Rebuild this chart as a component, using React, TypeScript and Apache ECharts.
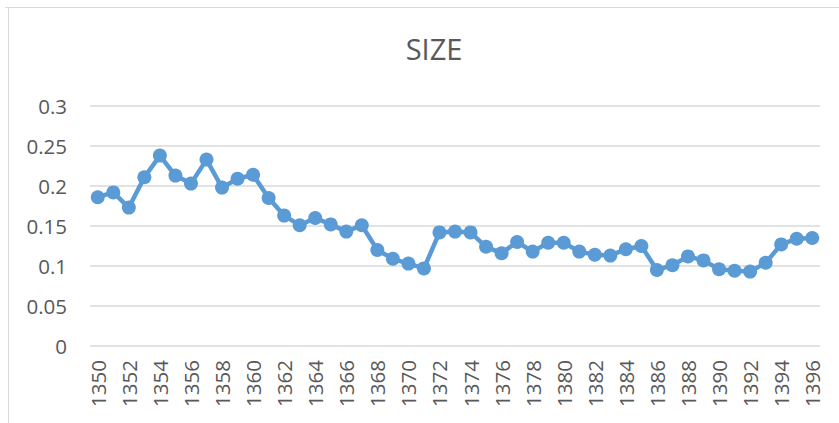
import React, { useEffect, useRef } from "react";
import * as echarts from "echarts";

const years: string[] = [];
for (let y = 1350; y <= 1396; y++) years.push(String(y));

const sizeValues = [
  0.186, 0.192, 0.173, 0.211, 0.238, 0.213, 0.203, 0.233, 0.198, 0.209,
  0.214, 0.185, 0.163, 0.151, 0.16, 0.152, 0.143, 0.151, 0.12, 0.109,
  0.103, 0.097, 0.142, 0.143, 0.142, 0.124, 0.116, 0.13, 0.118, 0.129,
  0.129, 0.118, 0.114, 0.113, 0.121, 0.125, 0.095, 0.101, 0.112, 0.107,
  0.096, 0.094, 0.093, 0.104, 0.127, 0.134, 0.135,
];

const yMin = 0;
const yMax = 0.3;
const yStep = 0.05;

export default function App() {
  const ref = useRef<HTMLDivElement>(null);
  useEffect(() => {
    if (!ref.current) return;
    const chart = echarts.init(ref.current, undefined, { renderer: "svg" });
    const font = "'Open Sans', 'Liberation Sans', sans-serif";
    chart.setOption({
      animation: false,
      backgroundColor: "#ffffff",
      title: {
        text: "SIZE",
        left: 429,
        top: 29,
        textAlign: "center",
        textStyle: { fontFamily: font, fontSize: 29, fontWeight: "normal", color: "#595959" },
      },
      graphic: [
        { type: "line", shape: { x1: 5, y1: 7.5, x2: 839, y2: 7.5 }, style: { stroke: "#d9d9d9", lineWidth: 1 } },
        { type: "line", shape: { x1: 8.5, y1: 7.5, x2: 8.5, y2: 423 }, style: { stroke: "#d9d9d9", lineWidth: 1 } },
      ],
      grid: { left: 90, right: 19, top: 106, bottom: 77, containLabel: false },
      xAxis: {
        type: "category",
        data: years,
        boundaryGap: true,
        axisLine: { show: false },
        axisTick: { show: false },
        axisLabel: {
          rotate: 90,
          interval: 1,
          margin: 14,
          color: "#595959",
          fontFamily: font,
          fontSize: 20.5,
        },
      },
      yAxis: {
        type: "value",
        min: yMin,
        max: yMax,
        interval: yStep,
        axisLine: { show: false },
        axisTick: { show: false },
        axisLabel: {
          margin: 23,
          color: "#595959",
          fontFamily: font,
          fontSize: 20.5,
          formatter: (v: number) => String(Math.round(v * 100) / 100),
        },
        splitLine: { lineStyle: { color: "#d9d9d9", width: 1.5 } },
      },
      series: [
        {
          type: "line",
          data: sizeValues,
          symbol: "circle",
          symbolSize: 14,
          showAllSymbol: true,
          lineStyle: { color: "#5b9bd5", width: 4.5 },
          itemStyle: { color: "#5b9bd5" },
        },
      ],
    });
    return () => chart.dispose();
  }, []);
  return (
    <div
      ref={ref}
      style={{ position: "fixed", left: 0, top: 0, width: 839, height: 423 }}
    />
  );
}
